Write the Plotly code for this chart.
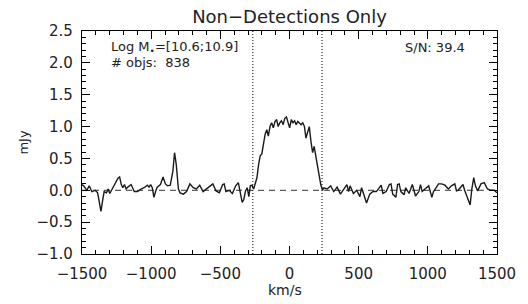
import plotly.graph_objects as go

# Velocity (km/s) and stacked flux (mJy)
velocity = [
    -1500, -1488, -1465, -1448, -1429, -1405, -1387, -1370, -1363, -1353,
    -1340, -1323, -1311, -1299, -1287, -1264, -1240, -1228, -1216, -1205,
    -1193, -1181, -1169, -1145, -1134, -1122, -1098, -1074, -1051, -1027,
    -1015, -1004, -992, -980, -968, -956, -933, -914, -897, -881,
    -862, -843, -831, -819, -803, -791, -767, -744, -720, -696,
    -673, -649, -625, -602, -578, -554, -531, -507, -483, -472,
    -460, -436, -413, -389, -370, -353, -342, -330, -318, -306,
    -294, -283, -271, -259, -247, -235, -223, -212, -200, -188,
    -176, -164, -153, -141, -129, -117, -105, -93, -82, -70,
    -58, -46, -34, -22, -11, 1, 13, 25, 37, 48,
    60, 72, 84, 96, 108, 119, 131, 143, 155, 167,
    178, 190, 202, 214, 226, 238, 249, 273, 297, 320,
    344, 368, 391, 415, 427, 438, 462, 486, 509, 521,
    533, 557, 580, 604, 628, 651, 663, 675, 699, 722,
    734, 746, 769, 781, 793, 805, 828, 840, 864, 888,
    911, 935, 947, 959, 982, 1006, 1029, 1041, 1053, 1077,
    1100, 1124, 1148, 1171, 1195, 1207, 1219, 1242, 1254, 1266,
    1290, 1306, 1318, 1332, 1344, 1360, 1384, 1408, 1431, 1455,
    1479, 1500,
]
flux = [
    0.09, 0.07, 0.00, 0.07, -0.02, 0.00, -0.04, -0.22, -0.33, -0.19,
    -0.02, -0.04, 0.02, -0.05, 0.00, 0.09, 0.19, 0.21, 0.09, 0.04,
    0.09, 0.02, 0.05, 0.09, 0.04, -0.02, -0.02, 0.02, 0.04, 0.08,
    0.05, 0.09, 0.04, -0.11, -0.02, 0.05, 0.09, 0.21, 0.10, 0.07,
    0.08, 0.30, 0.59, 0.41, 0.02, -0.04, -0.06, -0.02, 0.10, 0.04,
    0.02, 0.08, -0.02, 0.02, 0.05, 0.10, -0.01, -0.04, 0.09, 0.10,
    -0.02, 0.00, -0.05, 0.07, 0.12, -0.05, -0.19, -0.14, -0.01, 0.04,
    -0.10, 0.07, 0.08, 0.02, 0.10, 0.20, 0.41, 0.54, 0.57, 0.77,
    0.88, 0.95, 0.85, 1.00, 1.06, 0.98, 1.08, 1.11, 1.00, 1.06,
    1.09, 1.03, 1.13, 1.15, 1.08, 0.98, 1.11, 1.06, 1.09, 1.03,
    1.08, 1.06, 1.03, 1.06, 1.00, 0.82, 0.93, 1.00, 0.77, 0.59,
    0.69, 0.54, 0.33, 0.20, 0.09, 0.00, 0.04, 0.02, 0.07, -0.02,
    0.05, -0.06, 0.02, 0.09, -0.02, 0.07, -0.05, 0.00, -0.10, 0.04,
    -0.04, -0.20, -0.06, -0.02, -0.02, 0.04, 0.08, -0.05, -0.02, 0.09,
    0.10, -0.06, -0.11, 0.09, 0.10, -0.02, -0.07, 0.04, -0.05, 0.09,
    -0.09, -0.02, 0.09, -0.02, 0.02, 0.07, -0.11, -0.02, 0.02, 0.10,
    0.10, 0.08, 0.02, 0.07, 0.10, -0.01, 0.00, 0.07, 0.09, 0.00,
    -0.14, -0.23, 0.02, 0.20, 0.07, -0.01, 0.10, 0.12, 0.02, 0.00,
    0.00, -0.04,
]
window_edges = [-265, 235]          # km/s, dotted vertical lines
x_range = [-1500, 1500]
y_range = [-1.0, 2.5]
x_ticks = [-1500, -1000, -500, 0, 500, 1000, 1500]
y_ticks = [-1.0, -0.5, 0.0, 0.5, 1.0, 1.5, 2.0, 2.5]

title_text = "Non\u2212Detections Only"
mass_text = "Log M<sub>\u2022</sub>=[10.6;10.9]"
nobj_text = "# objs:  838"
sn_text = "S/N: 39.4"

FONT = "DejaVu Sans"
TXT = "#222222"

fig = go.Figure()

# zero line (dashed)
fig.add_trace(go.Scatter(x=x_range, y=[0, 0], mode="lines",
                         line=dict(color="#333333", width=1, dash="6px,5px"),
                         hoverinfo="skip", showlegend=False))
# window edges (dotted)
for v in window_edges:
    fig.add_trace(go.Scatter(x=[v, v], y=y_range, mode="lines",
                             line=dict(color="black", width=1, dash="1px,2px"),
                             hoverinfo="skip", showlegend=False))
# spectrum
fig.add_trace(go.Scatter(x=velocity, y=flux, mode="lines",
                         line=dict(color="#1a1a1a", width=1.4),
                         showlegend=False))

axis_common = dict(showline=True, linecolor="black", linewidth=1.2,
                   mirror="allticks", ticks="inside", ticklen=8,
                   tickcolor="black", tickwidth=1, showgrid=False,
                   zeroline=False,
                   tickfont=dict(family=FONT, size=15, color=TXT))

fig.update_xaxes(range=x_range, tickvals=x_ticks, ticklabelstandoff=6,
                 minor=dict(dtick=100, ticks="inside", ticklen=4,
                            tickcolor="black", showgrid=False),
                 **axis_common)
fig.update_yaxes(range=y_range, tickvals=y_ticks, tickformat=".1f",
                 ticklabelstandoff=5,
                 minor=dict(dtick=0.1, ticks="inside", ticklen=4,
                            tickcolor="black", showgrid=False),
                 **axis_common)

fig.update_layout(
    width=528, height=304,
    margin=dict(l=82, r=23, t=31, b=50),
    paper_bgcolor="white", plot_bgcolor="white",
    title=dict(text=title_text, x=0.5, xanchor="center", y=0.945,
               yanchor="middle", xref="paper",
               font=dict(family=FONT, size=18, color=TXT)),
    annotations=[
        dict(text=mass_text, xref="paper", yref="paper", x=0.066, y=0.928,
             xanchor="left", yanchor="middle", showarrow=False,
             font=dict(family=FONT, size=13, color=TXT)),
        dict(text=nobj_text, xref="paper", yref="paper", x=0.066, y=0.858,
             xanchor="left", yanchor="middle", showarrow=False,
             font=dict(family=FONT, size=13, color=TXT)),
        dict(text=sn_text, xref="paper", yref="paper", x=0.927, y=0.928,
             xanchor="right", yanchor="middle", showarrow=False,
             font=dict(family=FONT, size=13, color=TXT)),
        dict(text="mJy", xref="paper", yref="paper", x=-0.142, y=0.5,
             xanchor="center", yanchor="middle", textangle=-90,
             showarrow=False, font=dict(family=FONT, size=13, color=TXT)),
        dict(text="km/s", xref="paper", yref="paper", x=0.49, y=-0.162,
             xanchor="center", yanchor="middle", showarrow=False,
             font=dict(family=FONT, size=14, color=TXT)),
    ],
)

fig.write_html("out.html",
               config={"displayModeBar": False},
               post_script="document.body.style.margin='0px';"
                           "document.body.style.overflow='hidden';")
